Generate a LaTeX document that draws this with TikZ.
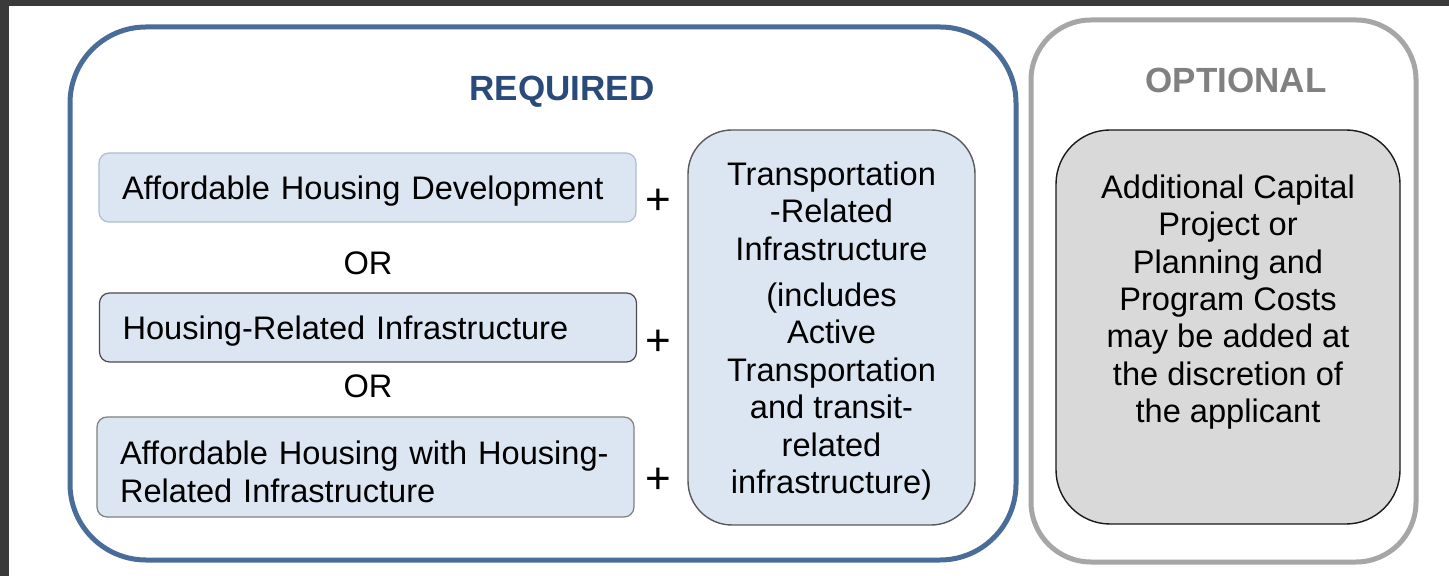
\documentclass[tikz,border=0pt]{standalone}
\usepackage{fontspec}
\setmainfont{Liberation Sans}
\usepackage{tikz}
\usetikzlibrary{positioning}
\definecolor{pagedark}{HTML}{3A3A3A}
\definecolor{reqblue}{HTML}{4A6C99}
\definecolor{reqtext}{HTML}{2A4A7A}
\definecolor{boxblue}{HTML}{DCE6F2}
\definecolor{optgray}{HTML}{A6A6A6}
\definecolor{opttext}{HTML}{808080}
\definecolor{optfill}{HTML}{D9D9D9}
\tikzset{
	outer frame/.style={draw,line width=2.5pt,inner sep=0pt},
	choice box/.style={draw,fill=boxblue,rounded corners=5pt,line width=0.6pt,
		align=left,text width=245.5pt,inner xsep=11.5pt,inner ysep=0pt,text depth=0pt},
	title/.style={font=\fontsize{17.5}{20}\selectfont\bfseries,text depth=0pt},
	plus/.style={font=\fontsize{22}{24}\selectfont}
}

\begin{document}
\begin{tikzpicture}[x=0.5pt,y=-0.5pt,font=\fontsize{16.3}{18.7}\selectfont]
	\useasboundingbox (0,0) rectangle (1449,576);
	\fill[pagedark] (0,0) rectangle (1449,576);
	\fill[white] (9,6) rectangle (1449,576);

	% required part
	\node [outer frame,draw=reqblue,rounded corners=38pt,
	       minimum width=473pt,minimum height=266.5pt] (req) at (543,293.5) {};
	\node [title,text=reqtext] (reqtitle) at (562,88) {REQUIRED};

	\node [choice box,draw=reqblue!45,minimum height=34.5pt] (ahd) at (367.5,187.5)
		{Affordable Housing Development};
	\node (or1) at (368,263) {OR};
	\node [choice box,draw=black!70,minimum height=34.5pt] (hri) at (368,327.5)
		{Housing-Related Infrastructure};
	\node (or2) at (368,386) {OR};
	\node [choice box,draw=black!50,minimum height=50pt,text depth=] (ahw) at (365.5,467)
		{\rule{0pt}{16.5pt}Affordable Housing with Housing-\\Related Infrastructure};

	\node [plus] (plus1) at (658,202) {+};
	\node [plus] (plus2) at (658,343) {+};
	\node [plus] (plus3) at (658,481) {+};

	\node [draw=black!65,fill=boxblue,rounded corners=22pt,line width=0.7pt,align=center,
	       minimum width=143.5pt,minimum height=197.5pt,inner sep=0pt,text depth=0pt] (tri) at (831.5,327.5)
		{Transportation\\-Related\\Infrastructure\\[4.5pt](includes\\Active\\Transportation\\and transit-\\related\\infrastructure)};

	% optional part
	\node [outer frame,draw=optgray,rounded corners=30pt,
	       minimum width=192.5pt,minimum height=271pt] (opt) at (1223.5,291) {};
	\node [title,text=opttext] (opttitle) at (1236,80) {OPTIONAL};
	\node [draw=black!90,fill=optfill,rounded corners=27pt,line width=0.7pt,
	       minimum width=172pt,minimum height=197pt] (add) at (1228,327) {};
	\node [align=center] (addtext) at (1228,302)
		{Additional Capital\\Project or\\Planning and\\Program Costs\\may be added at\\the discretion of\\the applicant};
\end{tikzpicture}
\end{document}
